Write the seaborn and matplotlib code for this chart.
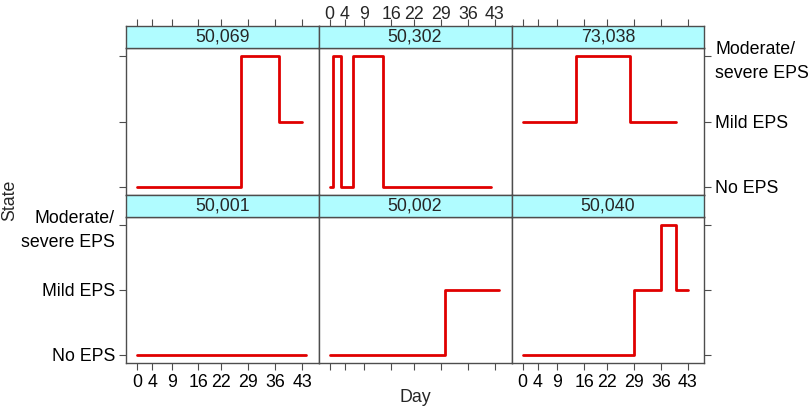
import matplotlib
matplotlib.use("Agg")
import matplotlib.pyplot as plt
import seaborn as sns
import pandas as pd

sns.set_theme(style="white")
plt.rcParams['font.family'] = ['Liberation Sans', 'DejaVu Sans']

# ---- data ----
patients = ["50,069", "50,302", "73,038", "50,001", "50,002", "50,040"]
days_50069 = [0, 27, 37, 43]
state_50069 = [1, 3, 2, 2]
days_50302 = [0, 1, 3, 6, 14, 42]
state_50302 = [1, 3, 1, 3, 1, 1]
days_73038 = [0, 14, 28, 40]
state_73038 = [2, 3, 2, 2]
days_50001 = [0, 44]
state_50001 = [1, 1]
days_50002 = [0, 30, 44]
state_50002 = [1, 2, 2]
days_50040 = [0, 29, 36, 40, 43]
state_50040 = [1, 2, 3, 2, 2]

x_ticks = [0, 4, 9, 16, 22, 29, 36, 43]
state_levels = [1, 2, 3]
state_labels = ["No EPS", "Mild EPS", "Moderate/\nsevere EPS"]

series = {
    "50,069": (days_50069, state_50069),
    "50,302": (days_50302, state_50302),
    "73,038": (days_73038, state_73038),
    "50,001": (days_50001, state_50001),
    "50,002": (days_50002, state_50002),
    "50,040": (days_50040, state_50040),
}

W, H = 810, 407
fig = plt.figure(figsize=(W / 100, H / 100), dpi=100)

col_edges = [126, 318.5, 511.5, 704.3]
rows = [  # (strip_top, strip_bottom, panel_bottom)
    (26, 48, 195),
    (195, 217, 363),
]
frame_col = "#4d4d4d"
strip_col = "#b0fcff"
line_col = "#e00000"
fs = 12.8


def fx(px):
    return px / W


def fy(py):
    return 1 - py / H


for i, pid in enumerate(patients):
    r, c = divmod(i, 3)
    st, sb, pb = rows[r]
    x0, x1 = col_edges[c], col_edges[c + 1]
    ax = fig.add_axes([fx(x0), fy(pb), fx(x1) - fx(x0), fy(sb) - fy(pb)])
    d, s = series[pid]
    df = pd.DataFrame({"Day": d, "State": s})
    sns.lineplot(data=df, x="Day", y="State", ax=ax, color=line_col,
                 linewidth=2, drawstyle="steps-post", sort=False,
                 estimator=None)
    ax.set_xlim(-2.9, 47.3)
    ax.set_ylim(0.875, 3.125)
    ax.set_xlabel("")
    ax.set_ylabel("")
    ax.set_xticks(x_ticks)
    ax.set_yticks(state_levels)
    for sp in ax.spines.values():
        sp.set_color(frame_col)
        sp.set_linewidth(1)
        sp.set_visible(True)
    ax.tick_params(axis="both", which="both", direction="out", length=5,
                   width=0.8, color=frame_col, labelsize=fs,
                   labelcolor="black", pad=3)
    # x ticks
    if r == 0:
        ax.tick_params(axis="x", bottom=False, labelbottom=False,
                       top=False, labeltop=False)
    else:
        ax.tick_params(axis="x", bottom=True, labelbottom=(c in (0, 2)),
                       top=False, labeltop=False)
        ax.set_xticklabels([str(t) for t in x_ticks])
    # y ticks
    if r == 0:
        ax.tick_params(axis="y", left=(c == 0), labelleft=False,
                       right=(c == 2), labelright=(c == 2))
    else:
        ax.tick_params(axis="y", left=(c == 0), labelleft=(c == 0),
                       right=(c == 2), labelright=False)
    ax.set_yticklabels(state_labels)
    for lab in ax.get_yticklabels():
        lab.set_linespacing(1.5)
    ax.grid(False)
    ax.set_facecolor("white")

    # strip
    sax = fig.add_axes([fx(x0), fy(sb), fx(x1) - fx(x0), fy(st) - fy(sb)])
    sax.set_facecolor(strip_col)
    sax.set_xlim(ax.get_xlim())
    sax.set_yticks([])
    for sp in sax.spines.values():
        sp.set_color(frame_col)
        sp.set_linewidth(1)
    sax.text(0.5, 0.5, pid, transform=sax.transAxes, ha="center",
             va="center", fontsize=fs)
    if r == 0:
        sax.set_xticks(x_ticks)
        sax.tick_params(axis="x", bottom=False, labelbottom=False, top=True,
                        labeltop=(c == 1), direction="out", length=5,
                        width=0.8, color=frame_col, labelsize=fs, pad=-2.5)
        sax.set_xticklabels([str(t) for t in x_ticks])
    else:
        sax.set_xticks([])

fig.text(fx(415), fy(397), "Day", ha="center", va="center", fontsize=fs)
fig.text(fx(10), fy(200), "State", ha="center", va="center", fontsize=fs,
         rotation=90)

fig.savefig("out.png", dpi=100, facecolor="white")
